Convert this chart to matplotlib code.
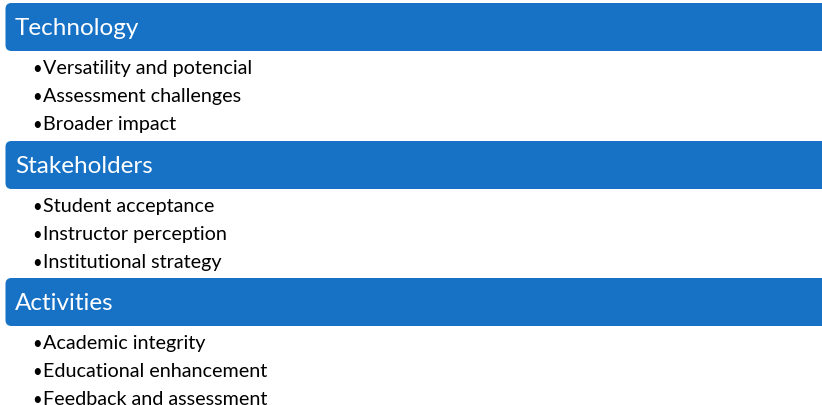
import matplotlib.pyplot as plt
from matplotlib.patches import FancyBboxPatch

categories = ["Technology", "Stakeholders", "Activities"]
items = [
    ["Versatility and potencial", "Assessment challenges", "Broader impact"],
    ["Student acceptance", "Instructor perception", "Institutional strategy"],
    ["Academic integrity", "Educational enhancement", "Feedback and assessment"],
]

W, H = 822, 405
box_tops = [3, 141, 278]
box_h = 48
blue = "#1772c6"

fig = plt.figure(figsize=(W / 100, H / 100), dpi=100)
ax = fig.add_axes([0, 0, 1, 1])
ax.set_xlim(0, W)
ax.set_ylim(H, 0)
ax.axis("off")

for top, cat, subs in zip(box_tops, categories, items):
    box = FancyBboxPatch((5.5, top), 900, box_h,
                         boxstyle="round,pad=0,rounding_size=6",
                         facecolor=blue, edgecolor="none")
    ax.add_patch(box)
    ax.text(15, top + 32, cat, color="white", fontsize=17.5,
            family="Lato", va="baseline", ha="left")
    for k, s in enumerate(subs):
        yb = top + 71 + k * 27.8
        ax.text(32, yb, "\u2022", fontsize=12, family="Lato",
                va="baseline", ha="left", color="black")
        ax.text(43, yb, s, fontsize=14.2, family="Lato",
                va="baseline", ha="left", color="black")

fig.savefig("out.png", dpi=100)
